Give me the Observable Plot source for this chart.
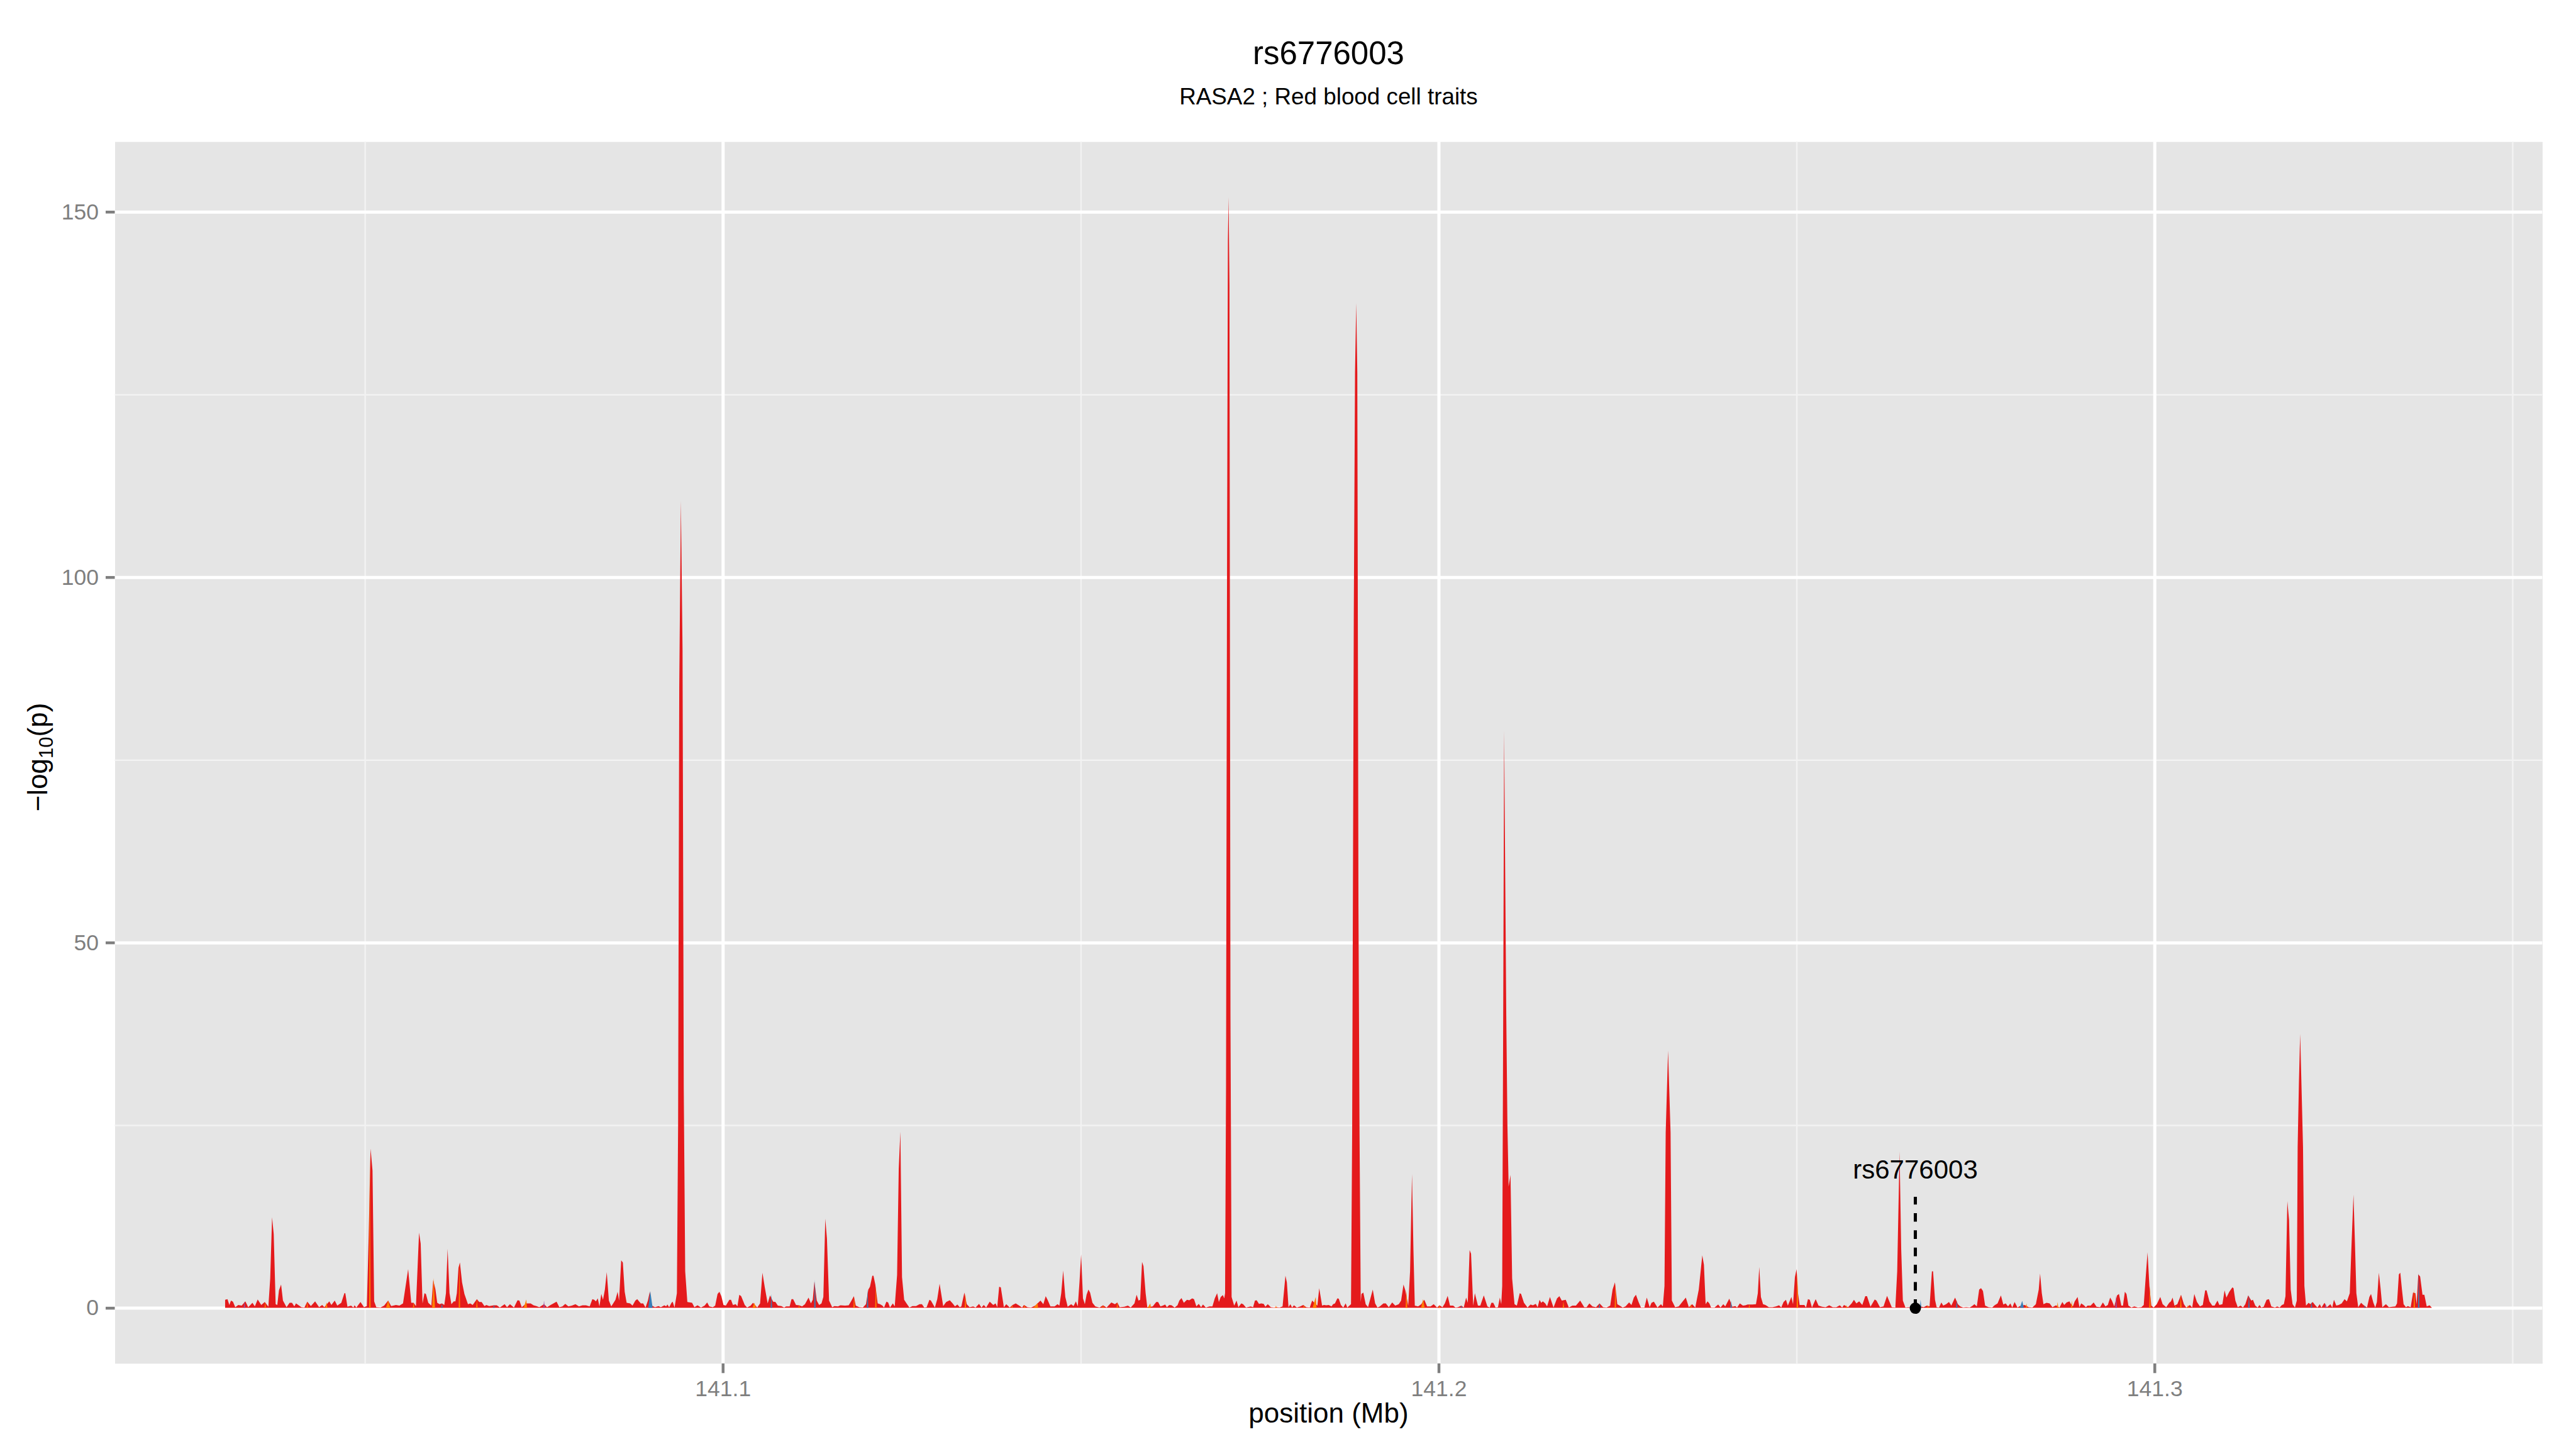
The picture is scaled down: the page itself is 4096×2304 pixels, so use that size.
<!DOCTYPE html>
<html><head><meta charset="utf-8">
<script src="https://cdn.jsdelivr.net/npm/d3@7"></script>
<script src="https://cdn.jsdelivr.net/npm/@observablehq/plot@0.6"></script>
<style>html,body{margin:0;padding:0;background:#fff;} #chart svg{display:block;}</style>
</head><body><div id="chart"></div>
<script>
const title = "rs6776003";
const subtitle = "RASA2 ; Red blood cell traits";
const xLabel = "position (Mb)";
const chromOffsetMb = 141; // SNP positions below are in kb past 141 Mb: [kb, -log10(p)]

const redTrait = [
[30.48,1.1],[30.81,1.2],[31.07,0.4],[31.30,1.0],[31.57,0.85],[31.90,0.1],[32.32,0.4],[32.79,0.3],[33.31,0.9],[33.71,0.1],[34.30,0.7],[34.63,0.2],[35.03,1.15],[35.53,0.4],[36.02,0.8],[36.52,0.15],[36.78,4.0],[37.04,12.4],[37.27,10.1],[37.54,0.5],[37.77,0.4],[38.00,2.4],[38.30,3.2],[38.56,1.0],[39.06,0.1],[39.49,0.7],[39.82,0.7],[40.15,0.2],[40.38,0.6],[41.14,0.1],[41.56,0.05],[41.96,0.85],[42.46,0.25],[43.05,0.9],[43.61,0.1],[44.04,0.4],[44.34,0.1],[45.03,0.9],[45.33,0.4],[45.79,1.0],[46.15,0.3],[46.71,0.7],[47.14,2.0],[47.27,2.0],[47.57,0.15],[48.07,0.3],[48.40,0.05],[48.56,0.35],[48.82,0.05],[49.39,0.8],[49.88,0.1],[50.28,0.25],[50.54,10],[50.80,21.8],[51.07,18.8],[51.30,0.9],[51.60,0.1],[52.19,0.05],[52.69,0.3],[53.25,1.0],[53.68,0.25],[54.34,0.4],[54.83,0.3],[55.33,0.6],[56.05,5.3],[56.48,0.7],[56.81,0.7],[57.14,0.25],[57.57,10.3],[57.80,8.8],[58.06,0.6],[58.33,2.0],[58.53,1.9],[58.86,0.7],[59.29,0.3],[59.55,3.8],[59.85,2.6],[60.11,0.7],[60.44,0.5],[60.77,0.6],[61.10,0.4],[61.33,2.0],[61.56,8.1],[61.83,2.0],[62.09,0.5],[62.42,0.9],[62.65,0.9],[62.85,2.0],[63.08,5.5],[63.28,6.2],[63.58,3.5],[63.91,1.9],[64.40,0.5],[64.73,0.6],[65.06,0.4],[65.65,1.2],[65.98,0.8],[66.31,0.8],[66.71,0.25],[66.97,0.4],[67.37,0.25],[68.03,0.35],[68.43,0.35],[68.86,0.05],[69.53,0.5],[69.86,0.1],[70.27,0.5],[70.83,0.05],[71.33,1.05],[71.59,1.0],[71.92,0.1],[72.55,0.6],[73.15,0.6],[73.57,0.35],[73.97,0.25],[74.37,0.1],[75.03,0.5],[75.46,0.1],[75.95,0.4],[76.35,0.6],[76.78,0.85],[77.17,0.1],[77.60,0.2],[78.00,0.55],[78.43,0.2],[78.92,0.3],[79.42,0.5],[79.91,0.2],[80.41,0.35],[80.90,0.35],[81.40,0.2],
[81.45,0.3],[81.78,1.2],[82.04,1.1],[82.28,0.9],[82.54,1.3],[82.77,0.2],[83.03,1.9],[83.27,1.1],[83.53,2.5],[83.79,4.9],[84.09,1.0],[84.42,0.2],[84.75,0.7],[85.01,1.1],[85.31,2.2],[85.51,1.0],[85.81,6.5],[86.04,6.2],[86.30,2.2],[86.57,0.7],[87.06,0.6],[87.39,0.3],[87.79,1.0],[88.05,1.2],[88.55,0.6],[88.88,0.6],[89.21,0.05],[89.54,1.0],[89.80,2.2],[90.10,0.3],[90.53,0.1],[91.02,0.25],[91.35,0.1],[91.85,0.35],[92.08,0.2],[92.27,0.45],[92.51,0.1],[92.84,0.7],[93.00,0.85],[93.26,0.05],[93.59,2],[93.76,25],[93.92,85],[94.15,110.4],[94.38,90],[94.55,30],[94.75,5],[95.05,0.8],[95.71,0.7],[96.04,0.1],[96.47,0.35],[96.96,0.05],[97.46,0.3],[97.82,0.75],[98.12,0.2],[98.61,0.1],[98.94,0.3],[99.27,1.9],[99.53,2.2],[99.80,1.6],[100.10,0.4],[100.43,0.3],[100.92,1.1],[101.15,1.1],[101.42,0.4],[101.81,0.5],[102.04,0.2],[102.31,1.8],[102.57,1.6],[103.07,0.4],[103.40,0.05],[103.89,0.3],[104.22,0.7],[104.81,0.05],[105.21,0.6],[105.54,4.8],[105.87,2.8],[106.27,0.6],[106.60,1.7],[107.03,0.85],[107.36,0.8],[107.69,0.3],[108.18,0.25],[108.58,0.05],[108.84,0.2],[109.34,0.2],[109.60,1.2],[109.83,1.2],[110.23,0.4],[110.66,0.35],[111.08,0.2],[111.48,0.5],[111.98,1.4],[112.31,0.6],[112.57,1.1],[112.80,3.6],[113.13,1.0],[113.46,0.4],[113.79,0.6],[114.05,1.5],[114.32,12.2],[114.55,9.5],[114.85,1.0],[115.28,0.1],[115.61,0.25],[116.10,0.2],[116.43,0.35],[117.09,0.3],[117.59,0.35],[117.92,0.9],[118.31,1.6],[118.58,0.3],[119.07,0.1],[119.57,0.05],[120.00,0.5],[120.33,2.5],[120.56,2.9],[120.89,4.4],[121.05,4.4],[121.31,3.2],[121.64,0.6],[121.97,0.5],[122.30,0.3],[122.53,0.05],[122.86,0.85],[123.10,0.75],[123.36,0.05],[123.76,0.6],[124.02,0.2],[124.35,4.5],[124.58,19],[124.81,24.1],[125.04,4.2],[125.34,1.1],[125.67,0.6],[126.07,0.05],[126.50,0.25],[127.00,0.25],[127.49,0.5],[127.82,0.5],[128.15,0.05],[128.48,0.1],[128.87,1.1],[129.07,1.0],[129.63,0.05],[129.96,1.2],[130.29,3.3],[130.79,0.25],[131.21,0.8],[131.71,1.05],[132.11,0.6],[132.44,0.2],[132.77,0.45],[133.10,0.1],
[133.33,0.2],[133.75,2.1],[134.08,0.5],[134.48,0.1],[134.98,0.2],[135.31,0.05],[135.80,0.55],[136.13,0.05],[136.46,0.4],[136.79,0.05],[137.29,0.85],[137.78,0.4],[138.11,0.6],[138.34,0.1],[138.61,2.9],[138.84,2.8],[139.27,0.1],[139.60,0.5],[140.09,0.05],[140.49,0.4],[140.92,0.6],[141.41,0.3],[141.81,0.05],[142.07,0.4],[142.57,0.1],[143.06,0.05],[143.65,0.3],[144.38,1.0],[144.78,0.5],[145.11,1.6],[145.37,1.1],[145.77,0.2],[146.36,0.2],[146.76,0.5],[147.02,0.3],[147.28,2.0],[147.55,5.1],[147.85,1.5],[148.18,0.15],[148.67,0.5],[149.00,0.25],[149.33,0.9],[149.59,0.2],[149.83,3.5],[150.06,7.3],[150.32,1.3],[150.58,0.5],[150.82,1.8],[151.08,2.5],[151.31,2.1],[151.64,0.7],[152.04,0.2],[152.63,0.05],[153.12,0.35],[153.62,0.05],[154.28,0.75],[154.78,0.5],[155.11,0.75],[155.44,0.1],[156.10,0.15],[156.59,0.3],[156.99,0.05],[157.51,0.6],[157.81,1.8],[158.08,1.0],[158.31,1.1],[158.57,6.3],[158.77,5.7],[159.07,2.0],[159.30,0.1],[160.06,0.2],[160.55,0.8],[160.81,0.8],[161.14,0.2],[161.47,0.3],[161.80,0.45],[162.04,0.1],[162.37,0.4],[162.70,0.35],[163.12,0.05],[163.52,0.35],[163.78,1.0],[164.08,1.35],[164.41,0.7],[164.84,1.1],[165.17,1.05],[165.57,1.3],[165.83,1.2],[166.16,0.2],[166.49,0.55],[166.82,0.1],[167.08,0.45],[167.48,0.05],[167.98,0.2],[168.40,0.2],[168.73,1.3],[169.06,2.0],[169.30,0.8],[169.56,1.5],[169.86,1.75],[170.05,1.3],[170.17,2],[170.30,30],[170.45,105],[170.56,146],[170.66,152],[170.78,140],[170.92,40],[171.08,1.5],[171.44,0.3],[171.77,1.0],[172.03,0.1],[172.43,0.6],[172.69,0.5],[173.09,0.05],[173.75,0.2],[174.08,0.1],[174.34,1.0],[174.58,1.05],[174.90,0.55],[175.23,0.6],[175.56,0.55],[175.80,0.15],[176.13,0.5],[176.56,0.1],[176.98,0.05],[177.38,0.1],[177.78,0.05],[178.20,0.2],[178.60,4.4],[178.80,3.5],[179.03,0.1],[179.29,0.5],[179.53,0.05],[179.79,0.35],[180.19,0.05],[180.68,0.2],[181.08,0.4],[181.51,0.1],[182.00,0.05],[182.33,1.0],[183.06,0.3],[183.32,2.7],[183.72,0.3],[183.98,0.4],[184.31,0.35],[184.64,0.4],
[185.03,0.2],[185.26,0.5],[185.52,0.6],[185.85,1.3],[186.05,1.25],[186.35,0.4],[186.68,0.05],[187.01,0.6],[187.24,0.05],[187.76,0.5],[187.92,24],[188.15,95],[188.32,128],[188.49,137.5],[188.64,128],[188.80,55],[188.95,24],[189.12,0.8],[189.22,1.9],[189.48,2.1],[189.81,0.5],[190.14,0.1],[190.47,1.3],[190.80,2.5],[191.13,0.6],[191.46,0.05],[191.79,0.2],[192.29,0.6],[192.62,0.6],[193.04,0.1],[193.51,0.75],[193.94,0.3],[194.43,0.5],[194.76,1.0],[195.09,3.2],[195.35,2.4],[195.75,0.3],[196.01,5],[196.28,18.3],[196.48,8],[196.67,0.3],[197.14,0.2],[197.57,0.5],[198.00,1.1],[198.39,0.2],[198.89,0.2],[199.31,0.5],[199.78,0.05],[200.11,0.35],[200.54,0.1],[200.87,0.6],[201.26,1.65],[201.59,0.3],[202.02,0.3],[202.35,0.05],[202.68,0.1],[203.18,0.3],[203.51,0.05],[203.84,1.4],[204.07,0.7],[204.33,7.9],[204.53,7.4],[204.83,0.3],[205.06,2.0],[205.49,0.3],[205.82,0.3],[206.31,1.7],[206.81,0.2],[207.14,0.05],[207.37,0.7],[207.63,0.7],[207.96,0.05],[208.29,0.1],[208.55,1.4],[208.75,0.5],[208.88,3],[209.02,40],[209.15,79],[209.45,40],[209.61,25],[209.78,16.6],[210.04,18.2],[210.27,4],[210.60,0.5],[210.93,0.3],[211.33,2.0],[211.52,1.9],[211.92,0.7],[212.42,0.05],[212.84,0.45],[213.17,0.35],[213.57,0.55],[213.83,0.1],[214.10,1.1],[214.33,0.7],[214.56,0.9],[214.89,0.6],[215.15,0.2],[215.55,1.5],[216.05,0.05],[216.54,1.3],[216.87,1.6],[217.20,1.0],[217.76,1.1],[218.19,0.05],[218.69,0.3],[219.18,0.3],[219.77,1.0],[220.34,0.1],[220.67,0.1],[221.06,0.6],[221.49,0.2],[221.99,0.1],[222.48,0.6],[222.98,0.1],[223.47,0.05],[223.97,0.3],[224.30,2.5],[224.63,3.5],[224.96,0.5],[225.29,0.3],[225.71,0.05],[226.11,0.2],[226.61,0.75],[226.94,0.4],[227.27,1.4],[227.56,1.8],[227.93,0.8],[228.26,0.05],[228.75,0.05],[229.08,1.4],[229.48,0.1],[229.74,0.7],[230.07,0.85],[230.57,0.05],[231.06,0.5],[231.32,0.2],[231.55,3],[231.72,24],[232.05,35.2],[232.40,24],[232.58,1],[233.04,0.1],[233.54,0.2],[234.03,0.8],[234.53,1.4],[234.95,0.1],[235.42,0.5],[235.85,0.05],[236.34,2.5],
[236.83,7.2],[237.06,5.9],[237.30,0.5],[237.56,0.9],[237.82,0.6],[238.06,0.05],[238.55,0.05],[239.05,0.45],[239.38,0.05],[239.77,0.5],[240.04,0.2],[240.60,1.25],[241.03,0.15],[241.45,0.25],[241.69,0.05],[242.08,0.6],[242.51,0.3],[242.84,0.35],[243.17,0.45],[243.83,0.45],[244.33,0.5],[244.59,2.0],[244.79,5.6],[245.02,1.5],[245.32,0.5],[245.65,0.4],[246.14,0.1],[246.64,0.1],[247.13,0.2],[247.56,0.35],[247.86,0.05],[248.19,0.8],[248.52,1.1],[248.78,0.3],[249.28,1.5],[249.51,0.5],[249.77,4.2],[250.00,5.3],[250.20,2.0],[250.43,0.4],[251.09,0.4],[251.32,0.05],[251.59,1.2],[251.85,1.1],[252.15,0.05],[252.67,1.2],[253.07,0.3],[253.57,0.15],[254.06,0.1],[254.56,0.35],[255.05,0.1],[255.55,0.1],[256.04,0.35],[256.37,0.05],[256.63,0.4],[257.19,0.1],[257.69,0.6],[258.02,1.1],[258.35,0.6],[258.75,0.9],[259.18,0.4],[259.60,1.6],[259.84,1.6],[260.33,0.15],[260.92,1.15],[261.16,1.0],[261.65,0.1],[262.15,0.2],[262.64,1.65],[263.30,0.1],[263.80,0.05],[264.06,5.0],[264.39,21.4],[264.62,8],[264.85,1.0],[265.21,0.05],[265.61,0.1],[266.01,0.05],[266.44,0.05],[266.93,0.3],[267.33,0.2],[267.76,0.1],[268.18,0.3],[268.58,0.2],[268.91,5.0],[269.07,5.0],[269.34,1.1],[269.57,0.1],[269.90,0.05],[270.23,0.75],[270.49,0.3],[270.89,0.5],[271.29,0.8],[271.62,0.3],[272.14,1.4],[272.54,0.5],[272.87,0.2],[273.27,0.05],[273.70,0.1],[274.19,0.05],[274.52,0.25],[274.85,0.5],[275.18,0.2],[275.51,2.5],[275.77,2.7],[276.04,2.3],[276.34,0.3],[276.83,0.1],[277.33,0.05],[277.66,0.35],[278.08,0.6],[278.55,1.7],[278.88,0.45],[279.21,0.6],[279.54,0.2],[279.87,0.6],[280.13,0.05],[280.46,0.8],[280.86,0.05],[281.19,0.25],[281.85,0.4],[282.44,0.1],[282.94,0.05],[283.43,0.5],[283.83,2.5],[284.02,4.7],[284.26,2.0],[284.49,0.5],[284.92,0.7],[285.35,0.6],[285.74,0.1],[286.24,0.35],[286.73,0.05],[287.13,0.8],[287.39,0.4],[287.72,0.75],[288.12,0.9],
[288.27,0.6],[288.60,0.2],[288.86,0.9],[289.26,1.5],[289.52,0.1],[289.76,0.6],[290.09,0.4],[290.42,0.1],[290.65,0.3],[291.08,0.3],[291.50,0.75],[291.90,0.15],[292.40,0.1],[292.79,0.75],[293.15,0.2],[293.48,0.4],[293.81,1.4],[294.05,1.0],[294.38,0.2],[294.77,1.7],[295.04,1.9],[295.37,0.3],[295.60,0.3],[295.86,2.2],[296.09,1.9],[296.36,0.3],[296.78,0.05],[297.18,0.2],[297.68,0.05],[298.17,0.1],[298.50,0.4],[298.76,4.0],[299.03,7.6],[299.29,3.0],[299.56,0.3],[299.89,0.05],[300.32,0.5],[300.81,1.5],[301.14,0.5],[301.64,0.1],[302.06,0.7],[302.30,0.9],[302.53,1.4],[302.79,0.3],[303.19,0.5],[303.71,1.8],[304.11,0.5],[304.44,0.05],[304.94,0.4],[305.27,0.05],[305.56,1.9],[305.93,0.8],[306.35,0.2],[306.75,0.4],[307.08,2.4],[307.28,2.4],[307.67,0.9],[308.07,0.3],[308.40,0.3],[308.80,1.0],[309.06,0.4],[309.49,0.5],[309.79,2.4],[310.05,1.4],[310.45,2.2],[310.88,2.8],[311.04,2.7],[311.30,1.0],[311.63,0.1],[312.03,0.3],[312.36,0.05],[312.69,0.5],[313.09,1.7],[313.52,1.0],[313.75,1.1],[314.08,0.3],[314.41,0.05],[314.67,0.4],[314.93,0.05],[315.26,0.15],[315.66,1.1],[315.99,1.2],[316.32,0.2],[316.82,0.05],[317.15,0.2],[317.48,0.05],[317.81,0.4],[318.07,0.5],[318.30,1.6],[318.56,14.6],[318.80,12],[319.03,2.5],[319.29,0.5],[319.62,0.05],[319.88,1],[320.00,22],[320.18,31],[320.35,37.5],[320.52,31],[320.75,22],[320.94,3],[321.17,0.3],[321.53,0.7],[321.77,0.5],[322.10,0.8],[322.43,0.4],[322.76,0.05],[323.09,0.5],[323.32,0.05],[323.75,0.7],[324.08,0.1],[324.57,0.5],[324.83,0.05],[325.07,1.1],[325.40,0.3],[325.73,0.4],[326.15,0.6],[326.55,1.2],[326.88,0.9],[327.28,2.0],[327.54,9],[327.80,15.5],[328.00,9],[328.20,2.0],[328.46,0.1],[328.86,0.7],[329.19,0.4],[329.69,0.05],[330.02,1.5],[330.25,1.9],[330.58,0.7],[330.84,0.05],[331.07,0.8],[331.34,4.8],[331.57,2.8],[331.83,0.1],[332.33,0.5],[332.75,0.1],[333.22,0.15],[333.65,0.2],[333.88,0.6],[334.14,4.6],[334.34,4.8],[334.57,2.5],[334.80,0.5],[335.13,0.1],[335.39,0.25],[335.79,0.1],[336.12,2.1],[336.45,2.0],[336.62,0.5],[336.85,4.6],[337.11,4.3],[337.44,1.8],[337.70,1.8],[338.03,0.2],[338.43,0.35],[338.76,0.0]
];

const orangeTrait = [
[35.98,0],[36.08,0.8],[36.18,0],[41.86,0],[41.96,0.85],[42.06,0],[44.45,0],[44.67,0.75],[44.77,0],[50.60,0],[50.70,21.3],[50.80,0],[52.95,0],[53.25,1.0],[53.55,0],[56.71,0],[56.81,0.75],[56.91,0],[59.40,0],[59.62,4.1],[59.80,0],[63.11,0],[63.21,6.2],[63.31,0],[65.55,0],[65.65,1.2],[65.75,0],[72.20,0],[72.55,1.15],[72.65,0],
[104.15,0],[104.39,0.7],[104.65,0],[110.56,0],[110.66,0.35],[110.76,0],[118.24,0],[118.34,1.5],[118.44,0],[121.28,0],[121.38,3.0],[121.48,0],
[133.79,0],[133.89,2.0],[133.99,0],[140.32,0],[140.42,0.4],[140.52,0],[142.04,0],[142.14,0.4],[142.24,0],[143.40,0],[143.98,0.65],[144.05,0],[153.02,0],[153.12,0.35],[153.22,0],[155.01,0],[155.11,0.75],[155.21,0],[159.35,0],[159.72,0.6],[159.82,0],[177.18,0],[177.28,0.3],[177.38,0],[181.08,0],[181.18,0.4],[181.28,0],[182.40,0],[182.83,1.5],[182.95,0],
[195.39,0],[195.49,2.4],[195.62,0],[197.55,0],[197.83,1.2],[198.05,0],[200.01,0],[200.11,0.35],[200.21,0],[217.33,0],[217.43,0.9],[217.53,0],[224.59,0],[224.69,3.3],[224.79,0],[235.15,0],[235.25,0.5],[235.35,0],
[243.30,0],[243.40,0.45],[243.50,0],[250.00,0],[250.10,5.0],[250.22,0],[256.86,0],[256.96,0.4],[257.06,0],[268.25,0],[268.35,0.4],[268.45,0],[282.01,0],[282.11,0.6],[282.21,0],[286.37,0],[286.47,0.8],[286.57,0],
[288.34,0],[288.44,1.0],[288.54,0],[290.81,0],[290.91,0.2],[291.01,0],[299.26,0],[299.36,3.0],[299.46,0],[302.86,0],[302.96,0.3],[303.06,0],[303.58,0],[303.68,1.8],[303.78,0],[304.57,0],[304.67,0.4],[304.77,0],[336.19,0],[336.29,2.6],[336.39,0]
];

const blueTrait = [
[60.67,0],[60.77,0.6],[60.87,0],[67.93,0],[68.03,0.35],[68.13,0],[89.60,0],[89.87,2.3],[90.20,0],[106.69,0],[106.79,1.9],[106.89,0],[112.77,0],[112.87,3.9],[112.97,0],[120.13,0],[120.23,2.5],[120.33,0],[203.08,0],[203.18,0.3],[203.28,0],[222.38,0],[222.48,0.6],[222.58,0],[240.76,0],[240.86,1.0],[240.96,0],[267.23,0],[267.33,1.1],[267.43,0],[272.28,0],[272.38,1.0],[272.48,0],[281.20,0],[281.52,0.95],[281.75,0],[313.09,0],[313.19,1.8],[313.29,0],[321.83,0],[321.93,0.8],[322.03,0],[329.26,0],[329.36,0.3],[329.46,0],[336.81,0],[336.91,4.8],[337.01,0]
];

const purpleTrait = [
[33.08,0],[33.18,0.9],[33.28,0],[74.93,0],[75.03,1.0],[75.13,0],[294.54,0],[294.64,1.7],[294.74,0],[323.81,0],[323.91,0.6],[324.01,0]
];

const xMajorTicks = [141.1, 141.2, 141.3];
const xMinorTicks = [141.05, 141.15, 141.25, 141.35];
const yMajorTicks = [0, 50, 100, 150];
const yMinorTicks = [25, 75, 125];
const leadSnp = [{name: "rs6776003", kb: 266.55, labelLogP: 17.7, lineTopLogP: 15.2, logP: 0}];

const toMb = kb => chromOffsetMb + kb / 1000;
const allPts = [...redTrait, ...orangeTrait, ...blueTrait, ...purpleTrait];
const xExt = d3.extent(allPts, d => toMb(d[0]));
const yMax = d3.max(allPts, d => d[1]);
const xPad = (xExt[1] - xExt[0]) * 0.05;
const yPad = yMax * 0.05;

const W = 4096, H = 2304;
const font = "'Liberation Sans', Arial, Helvetica, sans-serif";
const grey50 = "#7F7F7F";

const area = (data, fill) => Plot.areaY(data, {x: d => toMb(d[0]), y: d => d[1], fill});

const svg = Plot.plot({
  width: W, height: H,
  marginLeft: 182.5, marginRight: 53.6, marginTop: 225.2, marginBottom: 136.1,
  style: {fontFamily: font, background: "#fff", color: "#000"},
  x: {domain: [xExt[0] - xPad, xExt[1] + xPad]},
  y: {domain: [0 - yPad, yMax + yPad]},
  marks: [
    Plot.frame({fill: "#E5E5E5", stroke: "none"}),
    Plot.ruleY(yMinorTicks, {stroke: "#F2F2F2", strokeWidth: 2.5}),
    Plot.ruleX(xMinorTicks, {stroke: "#F2F2F2", strokeWidth: 2.5}),
    Plot.ruleY(yMajorTicks, {stroke: "#fff", strokeWidth: 5}),
    Plot.ruleX(xMajorTicks, {stroke: "#fff", strokeWidth: 5}),
    area(redTrait, "#E41A1C"),
    area(orangeTrait, "#FF7F00"),
    area(blueTrait, "#377EB8"),
    area(purpleTrait, "#984EA3"),
    Plot.ruleX(leadSnp, {x: d => toMb(d.kb), y1: d => d.logP, y2: d => d.lineTopLogP, stroke: "#000", strokeWidth: 5, strokeDasharray: "13.7,13.7"}),
    Plot.dot(leadSnp, {x: d => toMb(d.kb), y: d => d.logP, r: 9, fill: "#000", stroke: "none"}),
    Plot.text(leadSnp, {x: d => toMb(d.kb), y: d => d.labelLogP, text: d => d.name, fontSize: 42, lineAnchor: "bottom", fill: "#000"}),
    Plot.axisX({ticks: xMajorTicks, tickFormat: d3.format(".1f"), tickSize: 15.4, tickPadding: 11, fontSize: 35.5, color: grey50, strokeWidth: 4.5, label: null}),
    Plot.axisY({ticks: yMajorTicks, tickSize: 14.5, tickPadding: 11.4, fontSize: 35.5, color: grey50, strokeWidth: 4.5, label: null})
  ]
});

const s = d3.select(svg);
const cx = (182.5 + (W - 53.6)) / 2;
s.append("text").attr("x", cx).attr("y", 101.8).attr("text-anchor", "middle")
  .attr("font-family", font).attr("font-size", 51).attr("fill", "#000").text(title);
s.append("text").attr("x", cx).attr("y", 165.6).attr("text-anchor", "middle")
  .attr("font-family", font).attr("font-size", 36.8).attr("fill", "#000").text(subtitle);
s.append("text").attr("x", cx).attr("y", 2262).attr("text-anchor", "middle")
  .attr("font-family", font).attr("font-size", 44).attr("fill", "#000").text(xLabel);
const yl = s.append("text").attr("transform", "translate(75,1204) rotate(-90)").attr("text-anchor", "middle")
  .attr("font-family", font).attr("font-size", 44).attr("fill", "#000");
yl.append("tspan").text("\u2212log");
yl.append("tspan").attr("font-size", 31).attr("dy", 9).text("10");
yl.append("tspan").attr("dy", -9).text("(p)");

document.getElementById("chart").appendChild(svg);
</script>
</body></html>
